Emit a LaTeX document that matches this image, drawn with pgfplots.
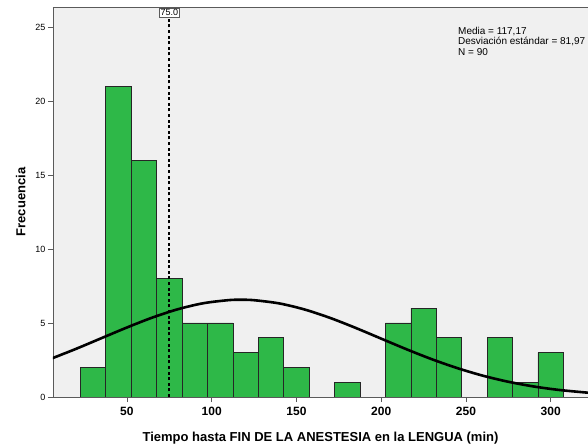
\documentclass[border=0pt]{standalone}
\usepackage{pgfplots}
\pgfplotsset{compat=1.18}
\usepackage{fontspec}
\setmainfont{Liberation Sans}
\definecolor{bgc}{RGB}{240,240,240}
\definecolor{barg}{RGB}{46,184,72}
\definecolor{axg}{RGB}{90,90,90}
\begin{document}
\begin{tikzpicture}
\begin{axis}[
  scale only axis,
  width=535pt, height=390pt,
  xmin=6.4, xmax=322,
  ymin=0, ymax=26.35,
  axis background/.style={fill=bgc},
  axis x line=box, axis y line=left,
  xtick pos=lower,
  axis line style={draw=axg, line width=0.9pt},
  x axis line style={-},
  y axis line style={-},
  tick align=outside,
  major tick length=5pt,
  tick style={draw=axg, line width=0.8pt},
  xtick={50,100,150,200,250,300},
  ytick={0,5,10,15,20,25},
  /pgf/number format/assume math mode=true,
  xticklabel style={font=\fontsize{12}{14}\selectfont\bfseries, yshift=-2pt},
  yticklabel style={font=\fontsize{9}{10}\selectfont, xshift=1pt},
  xlabel={Tiempo hasta FIN DE LA ANESTESIA en la LENGUA (min)},
  ylabel={Frecuencia},
  xlabel style={font=\fontsize{13}{15}\selectfont\bfseries, yshift=-9pt},
  ylabel style={font=\fontsize{13}{15}\selectfont\bfseries, yshift=3pt},
  clip=true,
]
\addplot[ybar, bar width=15, bar shift=0pt, fill=barg, draw=black!85, line width=0.7pt] coordinates {
 (30,2) (45,21) (60,16) (75,8) (90,5) (105,5) (120,3) (135,4) (150,2)
 (180,1) (210,5) (225,6) (240,4) (270,4) (285,1) (300,3)
};
\addplot[black, line width=2.6pt, smooth] coordinates {
 (6,2.619) (20,3.254) (35,3.976) (50,4.696) (65,5.366) (80,5.928) (95,6.334)
 (110,6.545) (117.17,6.570) (125,6.540) (140,6.320) (155,5.906) (170,5.338)
 (185,4.665) (200,3.943) (215,3.223) (230,2.547) (245,1.948) (260,1.440)
 (275,1.029) (290,0.711) (305,0.476) (322,0.290)
};
\addplot[black, line width=2.2pt, dash pattern=on 3pt off 2.6pt] coordinates {(75,0) (75,26.35)};
\node[draw=axg, fill=white, inner sep=1.3pt, line width=0.6pt, font=\fontsize{9}{10}\selectfont, anchor=north] at (axis cs:75,26.3) {75.0};
\node[anchor=north west, align=left, font=\fontsize{10}{10.5}\selectfont, inner sep=0pt] at (axis cs:245.3,25.0) {Media = 117,17\\Desviación estándar = 81,97\\N = 90};
\end{axis}
\pgfresetboundingbox
\path[use as bounding box] ([xshift=-53pt,yshift=-48pt]current axis.south west) rectangle ([yshift=7pt]current axis.north east);
\end{tikzpicture}
\end{document}
